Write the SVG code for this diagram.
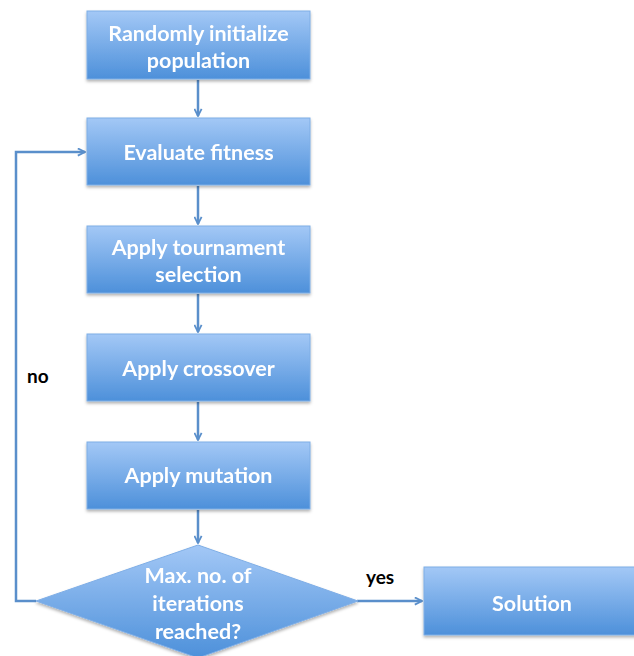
<svg xmlns="http://www.w3.org/2000/svg" width="634" height="656" viewBox="0 0 634 656">
<style>
.box{fill:url(#g);stroke:#7faee6;stroke-width:1}
.t{font-family:Lato,"Open Sans",sans-serif;font-weight:bold;font-size:21.5px;fill:#fff;text-anchor:middle}
.l{font-family:Lato,"Open Sans",sans-serif;font-weight:bold;font-size:19px;fill:#000}
.c{fill:none;stroke:#5a8fcb;stroke-width:2.5}
</style>
<defs>
<linearGradient id="g" x1="0" y1="0" x2="0" y2="1">
<stop offset="0" stop-color="#a3c8f6"/>
<stop offset="1" stop-color="#4d90da"/>
</linearGradient>
<filter id="s" x="-10%" y="-10%" width="120%" height="130%">
<feDropShadow dx="0" dy="2" stdDeviation="1.5" flood-color="#000" flood-opacity="0.3"/>
</filter>
<marker id="a" viewBox="0 0 10 10" refX="9" refY="5" markerWidth="9" markerHeight="9" orient="auto" markerUnits="userSpaceOnUse">
<path d="M1,1 L9,5 L1,9" fill="none" stroke="#5a8fcb" stroke-width="2"/>
</marker>
</defs>
<rect width="634" height="656" fill="#fff"/>
<g id="connectors">
<line class="c" x1="198" y1="80" x2="198" y2="116" marker-end="url(#a)"/>
<line class="c" x1="198" y1="186" x2="198" y2="224" marker-end="url(#a)"/>
<line class="c" x1="198" y1="294" x2="198" y2="332" marker-end="url(#a)"/>
<line class="c" x1="198" y1="402" x2="198" y2="440" marker-end="url(#a)"/>
<line class="c" x1="198" y1="510" x2="198" y2="543" marker-end="url(#a)"/>
<polyline class="c" points="36,601 16,601 16,152 85,152" marker-end="url(#a)"/>
<line class="c" x1="357" y1="601" x2="422" y2="601" marker-end="url(#a)"/>
</g>
<g id="n1" filter="url(#s)"><rect class="box" x="87" y="11" width="223" height="68"/>
<text class="t" x="198.5" y="41">Randomly initialize</text><text class="t" x="198.5" y="68">population</text></g>
<g id="n2" filter="url(#s)"><rect class="box" x="87" y="118" width="223" height="67"/>
<text class="t" x="198.5" y="160">Evaluate fitness</text></g>
<g id="n3" filter="url(#s)"><rect class="box" x="87" y="226" width="223" height="67"/>
<text class="t" x="198.5" y="255">Apply tournament</text><text class="t" x="198.5" y="282">selection</text></g>
<g id="n4" filter="url(#s)"><rect class="box" x="87" y="334" width="223" height="67"/>
<text class="t" x="198.5" y="376">Apply crossover</text></g>
<g id="n5" filter="url(#s)"><rect class="box" x="87" y="442" width="223" height="67"/>
<text class="t" x="198.5" y="483">Apply mutation</text></g>
<g id="n6" filter="url(#s)"><polygon class="box" points="198,545 358,601 198,658 36,601"/>
<text class="t" x="198" y="583">Max. no. of</text><text class="t" x="198" y="611">iterations</text><text class="t" x="198" y="639">reached?</text></g>
<g id="n7" filter="url(#s)"><rect class="box" x="424" y="567" width="212" height="68"/>
<text class="t" x="532" y="611">Solution</text></g>
<text class="l" x="27" y="383">no</text>
<text class="l" x="366" y="584">yes</text>
</svg>
